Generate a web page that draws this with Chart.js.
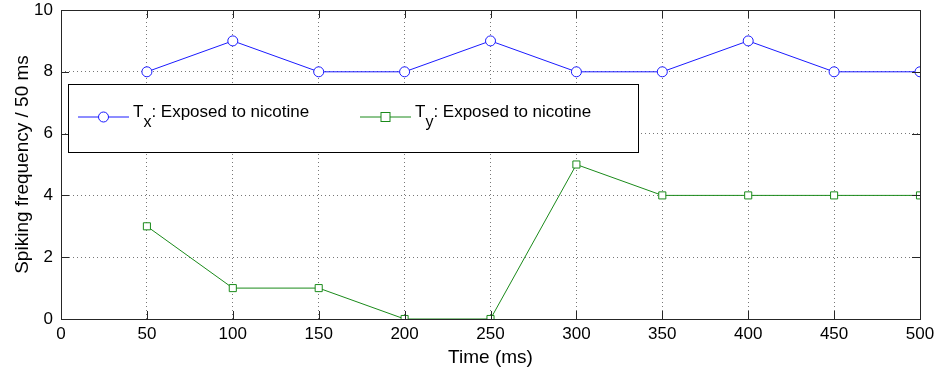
<!DOCTYPE html>
<html>
<head>
<meta charset="utf-8">
<script src="https://cdn.jsdelivr.net/npm/chart.js@4"></script>
<style>
	body { margin: 0; background: #fff; }
	#wrap { width: 938px; height: 373px; position: relative; }
</style>
</head>
<body>
<div id="wrap"><canvas id="myChart"></canvas></div>
<script>
// values
var times = [50, 100, 150, 200, 250, 300, 350, 400, 450, 500];
var txValues = [8, 9, 8, 8, 9, 8, 8, 9, 8, 8];
var tyValues = [3, 1, 1, 0, 0, 5, 4, 4, 4, 4];
var legendLabels = [["T", "x", ": Exposed to nicotine"], ["T", "y", ": Exposed to nicotine"]];

var FONT = "'Liberation Sans', Arial, sans-serif";
var blue = "#1a1aff";
var green = "#1a8a1a";

function toPoints(xs, ys) {
	var pts = [];
	for (var i = 0; i < xs.length; i++) {
		pts.push({ x: xs[i], y: ys[i] });
	}
	return pts;
}

// frame, inward ticks and the boxed legend, matlab style
var matlabBits = {
	id: "matlabBits",
	afterDraw: function (chart) {
		var ctx = chart.ctx;
		var a = chart.chartArea;
		var xs = chart.scales.x, ys = chart.scales.y;
		ctx.save();
		ctx.strokeStyle = "#262626";
		ctx.lineWidth = 1;
		ctx.strokeRect(Math.round(a.left) + 0.5, Math.round(a.top) + 0.5, Math.round(a.right - a.left), Math.round(a.bottom - a.top));
		var tl = 8;
		ctx.beginPath();
		xs.ticks.forEach(function (t) {
			var px = Math.round(xs.getPixelForValue(t.value)) + 0.5;
			ctx.moveTo(px, a.bottom); ctx.lineTo(px, a.bottom - tl);
			ctx.moveTo(px, a.top); ctx.lineTo(px, a.top + tl);
		});
		ys.ticks.forEach(function (t) {
			var py = Math.round(ys.getPixelForValue(t.value)) + 0.5;
			ctx.moveTo(a.left, py); ctx.lineTo(a.left + tl, py);
			ctx.moveTo(a.right, py); ctx.lineTo(a.right - tl, py);
		});
		ctx.stroke();

		// legend box
		var bx = 68.5, by = 84.5, bw = 570, bh = 68;
		ctx.fillStyle = "#fff";
		ctx.fillRect(bx, by, bw, bh);
		ctx.strokeStyle = "#000";
		ctx.strokeRect(bx, by, bw, bh);

		var entries = [
			{ x0: 78, color: blue, marker: "circle", label: legendLabels[0] },
			{ x0: 360, color: green, marker: "square", label: legendLabels[1] }
		];
		var ly = 117;
		entries.forEach(function (e) {
			ctx.strokeStyle = e.color;
			ctx.beginPath();
			ctx.moveTo(e.x0, ly); ctx.lineTo(e.x0 + 51, ly);
			ctx.stroke();
			var cx = e.x0 + 25.5;
			if (e.marker == "circle") {
				ctx.beginPath();
				ctx.arc(cx, ly, 5, 0, Math.PI * 2);
				ctx.fillStyle = "#fff";
				ctx.fill();
				ctx.stroke();
			} else {
				ctx.fillStyle = "#fff";
				ctx.fillRect(cx - 4.5, ly - 4.5, 9, 9);
				ctx.strokeRect(cx - 4.5, ly - 4.5, 9, 9);
			}
			var tx = e.x0 + 55;
			ctx.fillStyle = "#000";
			ctx.textBaseline = "alphabetic";
			ctx.textAlign = "left";
			ctx.font = "17px " + FONT;
			ctx.fillText(e.label[0], tx, 117);
			tx += ctx.measureText(e.label[0]).width;
			ctx.font = "16px " + FONT;
			ctx.fillText(e.label[1], tx, 127);
			tx += ctx.measureText(e.label[1]).width;
			ctx.font = "17px " + FONT;
			ctx.fillText(e.label[2], tx, 117);
		});
		ctx.restore();
	}
};

var ctx = document.getElementById("myChart").getContext("2d");
var myChart = new Chart(ctx, {
	type: "line",
	data: {
		datasets: [
			{
				label: "Tx: Exposed to nicotine",
				data: toPoints(times, txValues),
				borderColor: blue,
				backgroundColor: "#fff",
				borderWidth: 1,
				pointStyle: "circle",
				pointRadius: 5,
				pointBorderWidth: 1,
				pointBorderColor: blue,
				tension: 0,
			},
			{
				label: "Ty: Exposed to nicotine",
				data: toPoints(times, tyValues),
				borderColor: green,
				backgroundColor: "#fff",
				borderWidth: 1,
				pointStyle: "rect",
				pointRadius: 5,
				pointBorderWidth: 1,
				pointBorderColor: green,
				tension: 0,
			},
		],
	},
	options: {
		responsive: true,
		maintainAspectRatio: false,
		animation: false,
		layout: {
			padding: { left: 0, top: 10, right: 18, bottom: 0 },
		},
		plugins: {
			legend: { display: false },
			tooltip: { enabled: false },
		},
		scales: {
			x: {
				type: "linear",
				min: 0,
				max: 500,
				afterFit: function (s) {
					s.height = 54;
					s.paddingLeft = 0;
					s.paddingRight = 0;
				},
				ticks: { stepSize: 50, color: "#000", padding: 5, font: { family: FONT, size: 17 }, maxRotation: 0 },
				grid: { color: "#777", drawTicks: false },
				border: { display: false, dash: [1, 3] },
				title: { display: true, text: "Time (ms)", color: "#000", font: { family: FONT, size: 19 }, padding: { top: 0, bottom: 4 } },
			},
			y: {
				min: 0,
				max: 10,
				afterFit: function (s) {
					s.width = 61;
					s.paddingTop = 0;
					s.paddingBottom = 0;
				},
				ticks: { stepSize: 2, color: "#000", padding: 8, font: { family: FONT, size: 17 } },
				grid: { color: "#777", drawTicks: false },
				border: { display: false, dash: [1, 3] },
				title: { display: true, text: "Spiking frequency / 50 ms", color: "#000", font: { family: FONT, size: 19 }, padding: { top: 11, bottom: 0 } },
			},
		},
	},
	plugins: [matlabBits],
});
</script>
</body>
</html>
